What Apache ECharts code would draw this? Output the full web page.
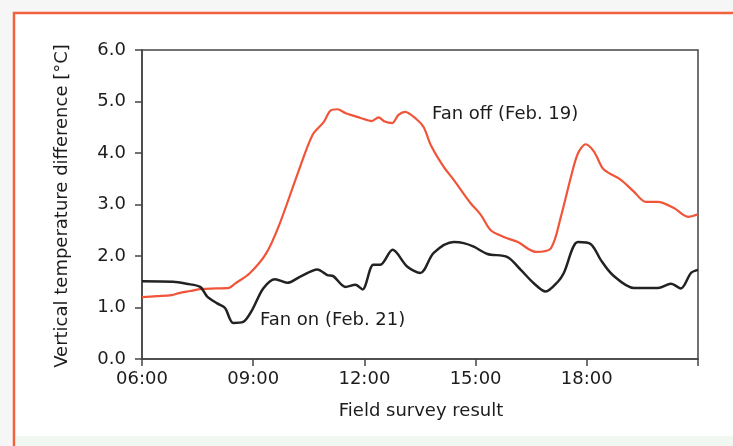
<!DOCTYPE html>
<html>
<head>
<meta charset="utf-8">
<script src="https://cdn.jsdelivr.net/npm/echarts@6/dist/echarts.min.js"></script>
<style>
html,body{margin:0;padding:0;background:#f6f6f6;}
#chart{width:733px;height:446px;}
</style>
</head>
<body>
<div id="chart"></div>
<script>
// Time of day in decimal hours
const fanOffHours = [6.0,6.4,6.8,7.0,7.3,7.6,8.0,8.35,8.5,8.9,9.35,9.7,10.2,10.6,10.9,11.08,11.27,11.5,11.9,12.2,12.38,12.55,12.75,12.92,13.1,13.4,13.6,13.8,14.14,14.41,14.86,15.14,15.41,15.76,16.14,16.62,17.03,17.3,17.57,17.76,17.97,18.19,18.43,18.6,18.92,19.27,19.59,19.92,20.35,20.73,21.0];
const fanOffValues = [1.20,1.22,1.24,1.28,1.32,1.36,1.37,1.38,1.46,1.66,2.05,2.6,3.6,4.35,4.6,4.82,4.85,4.77,4.68,4.62,4.69,4.61,4.58,4.74,4.8,4.66,4.5,4.14,3.73,3.48,3.03,2.8,2.5,2.37,2.27,2.08,2.15,2.76,3.53,3.99,4.17,4.03,3.7,3.61,3.48,3.25,3.05,3.05,2.93,2.76,2.81];
const fanOnHours = [6.0,6.84,7.2,7.57,7.76,8.03,8.24,8.46,8.73,8.97,9.27,9.59,9.92,10.27,10.73,11.0,11.16,11.49,11.76,11.95,12.24,12.43,12.76,13.16,13.51,13.87,14.41,14.68,14.95,15.32,15.86,16.22,16.57,16.89,17.22,17.38,17.76,18.11,18.38,18.7,19.27,19.92,20.27,20.54,20.81,21.0];
const fanOnValues = [1.51,1.50,1.46,1.40,1.21,1.08,0.99,0.70,0.72,0.95,1.37,1.55,1.48,1.60,1.74,1.63,1.61,1.40,1.44,1.35,1.83,1.83,2.12,1.79,1.67,2.06,2.27,2.25,2.18,2.04,1.98,1.73,1.47,1.31,1.50,1.67,2.27,2.23,1.92,1.63,1.38,1.38,1.46,1.37,1.67,1.73];
const xTickHours = [6,9,12,15,18,21];
const xTickLabels = ['06:00','09:00','12:00','15:00','18:00',''];
const yTickLabels = ['0.0','1.0','2.0','3.0','4.0','5.0','6.0'];
const seriesNames = ['Fan off (Feb. 19)','Fan on (Feb. 21)'];
const yAxisTitle = 'Vertical temperature difference [°C]';
const xAxisTitle = 'Field survey result';

const zip = (a,b) => a.map((v,i)=>[v,b[i]]);
const FONT = 'DejaVu Sans';
const chart = echarts.init(document.getElementById('chart'));
chart.setOption({
  backgroundColor: '#f6f6f6',
  animation: false,
  graphic: [
    {type:'rect', z:-10, shape:{x:14,y:13,width:740,height:440}, style:{fill:'#ffffff', stroke:'#f2623e', lineWidth:2.5}},
    {type:'rect', z:-9, shape:{x:16,y:436,width:720,height:12}, style:{fill:'#f1f8f1'}},
    {type:'text', x:62, y:206, rotation:Math.PI/2, style:{text:yAxisTitle, font:'18px "DejaVu Sans"', fill:'#1c1c1c', align:'center', verticalAlign:'middle'}},
    {type:'text', x:421, y:411, style:{text:xAxisTitle, font:'18px "DejaVu Sans"', fill:'#1c1c1c', align:'center', verticalAlign:'middle'}},
    {type:'text', x:432, y:114, style:{text:seriesNames[0], font:'18px "DejaVu Sans"', fill:'#1c1c1c', align:'left', verticalAlign:'middle'}},
    {type:'text', x:260, y:320, style:{text:seriesNames[1], font:'18px "DejaVu Sans"', fill:'#1c1c1c', align:'left', verticalAlign:'middle'}}
  ],
  grid: {left:142, top:50, right:35, bottom:87, show:true, borderColor:'#444', borderWidth:1.5, backgroundColor:'transparent'},
  xAxis: {
    type:'value', min:6, max:21, interval:3,
    axisLine:{show:true, lineStyle:{color:'#444', width:1.5}},
    axisTick:{show:true, inside:false, length:7, lineStyle:{color:'#444', width:1.5}},
    splitLine:{show:false},
    axisLabel:{margin:11, fontFamily:FONT, fontSize:18, color:'#1c1c1c',
      formatter:(v)=>{const i = xTickHours.indexOf(v); return i>=0 ? xTickLabels[i] : '';}}
  },
  yAxis: {
    type:'value', min:0, max:6, interval:1,
    axisLine:{show:true, lineStyle:{color:'#444', width:1.5}},
    axisTick:{show:true, inside:false, length:7, lineStyle:{color:'#444', width:1.5}},
    splitLine:{show:false},
    axisLabel:{margin:16, fontFamily:FONT, fontSize:18, color:'#1c1c1c',
      formatter:(v)=>yTickLabels[Math.round(v)]}
  },
  series: [
    {name:seriesNames[0], type:'line', data:zip(fanOffHours,fanOffValues), showSymbol:false, smooth:0.3,
      lineStyle:{color:'#f0553a', width:2.2}},
    {name:seriesNames[1], type:'line', data:zip(fanOnHours,fanOnValues), showSymbol:false, smooth:0.3,
      lineStyle:{color:'#222222', width:2.5}}
  ]
});
</script>
</body>
</html>
